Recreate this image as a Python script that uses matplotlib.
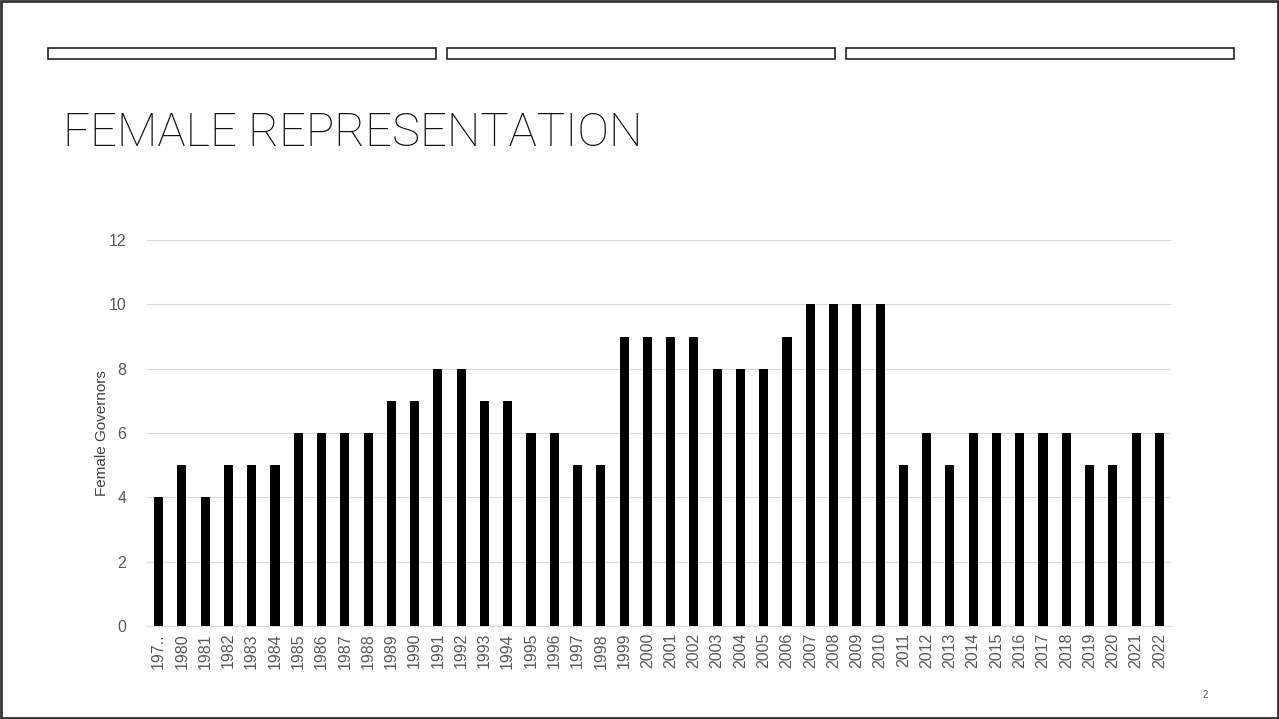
"""Female governors per year, slide-style bar chart."""

import matplotlib
matplotlib.use("Agg")
import matplotlib.pyplot as plt
from matplotlib.patches import Rectangle

years = ["197..", "1980", "1981", "1982", "1983", "1984", "1985", "1986",
         "1987", "1988", "1989", "1990", "1991", "1992", "1993", "1994",
         "1995", "1996", "1997", "1998", "1999", "2000", "2001", "2002",
         "2003", "2004", "2005", "2006", "2007", "2008", "2009", "2010",
         "2011", "2012", "2013", "2014", "2015", "2016", "2017", "2018",
         "2019", "2020", "2021", "2022"]
governors = [4, 5, 4, 5, 5, 5, 6, 6, 6, 6, 7, 7, 8, 8, 7, 7, 6, 6, 5, 5,
             9, 9, 9, 9, 8, 8, 8, 9, 10, 10, 10, 10, 5, 6, 5, 6, 6, 6, 6, 6,
             5, 5, 6, 6]
y_ticks = [0, 2, 4, 6, 8, 10, 12]

plt.rcParams["font.family"] = ["Liberation Sans", "DejaVu Sans"]

W, H = 1279, 719
fig = plt.figure(figsize=(W / 100, H / 100), dpi=100)

# slide frame and the three header strips
fig.patches.append(Rectangle((1 / W, 1 / H), (W - 2) / W, (H - 2) / H,
                             transform=fig.transFigure, fill=False,
                             edgecolor="#333333", linewidth=2))
for x0 in (48, 447, 846):
    fig.patches.append(Rectangle((x0 / W, 1 - 59 / H), 388 / W, 11 / H,
                                 transform=fig.transFigure, fill=False,
                                 edgecolor="#222222", linewidth=1.2))

fig.text(63 / W, 1 - 133 / H, "FEMALE REPRESENTATION", fontsize=34,
         family="Roboto", fontweight="light", va="center", ha="left",
         color="#111111")
fig.text(1205 / W, 1 - 695 / H, "2", fontsize=7, color="#595959",
         ha="center", va="center")

ax = fig.add_axes([147 / W, 1 - 626 / H, (1171 - 147) / W, (626 - 240) / H])
x = range(len(years))
ax.bar(x, governors, width=0.39, color="black", zorder=3)

ax.set_xlim(-0.5, len(years) - 0.5)
ax.set_ylim(0, 12)
ax.set_yticks(y_ticks)
ax.set_xticks(list(x))
ax.set_xticklabels(years, rotation=90)
ax.tick_params(axis="both", length=0, labelsize=11.5, colors="#595959")
ax.tick_params(axis="y", pad=15)
ax.tick_params(axis="x", pad=5)
ax.grid(axis="y", color="#d9d9d9", linewidth=0.8, zorder=0)
for side in ("top", "right", "left"):
    ax.spines[side].set_visible(False)
ax.spines["bottom"].set_color("#d9d9d9")
ax.set_ylabel("Female Governors", fontsize=11, color="#404040")
ax.yaxis.set_label_coords(-38 / 1024, 0.5)

fig.savefig("out.png", dpi=100)
